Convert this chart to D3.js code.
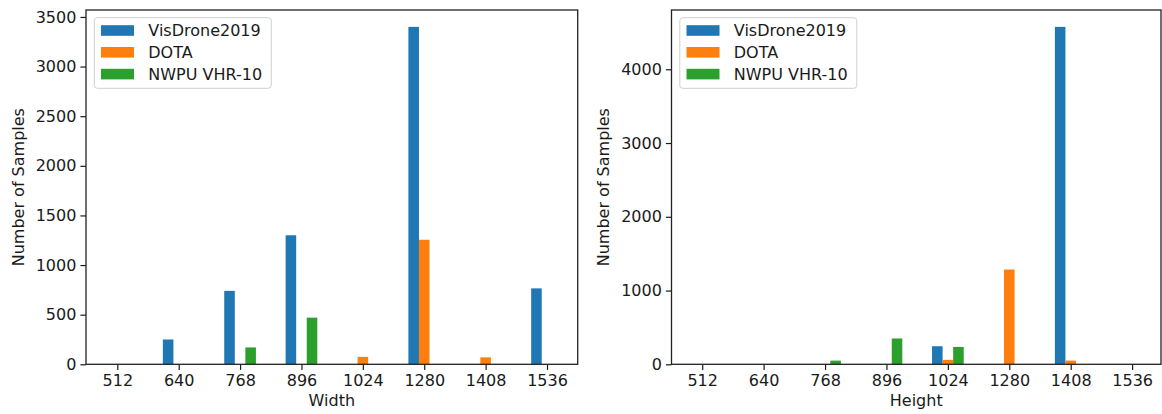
<!DOCTYPE html>
<html>
<head>
<meta charset="utf-8">
<script src="https://cdn.jsdelivr.net/npm/d3@7"></script>
<style>
  html, body { margin: 0; padding: 0; background: #ffffff; }
  svg { display: block; }
  text { font-family: "DejaVu Sans", sans-serif; fill: #1a1a1a; }
</style>
</head>
<body>
<svg id="chart" width="1162" height="414"></svg>
<script>
// ---- data ----
const categories = ["512", "640", "768", "896", "1024", "1280", "1408", "1536"];
const seriesNames = ["VisDrone2019", "DOTA", "NWPU VHR-10"];
const seriesColors = ["#1f77b4", "#ff7f0e", "#2ca02c"];

// Width distribution (left panel)
const widthVisDrone = [0, 250, 740, 1300, 0, 3400, 0, 765];
const widthDOTA     = [0, 0, 0, 0, 75, 1255, 70, 0];
const widthNWPU     = [0, 0, 170, 470, 0, 0, 0, 0];

// Height distribution (right panel)
const heightVisDrone = [0, 0, 0, 0, 245, 0, 4575, 0];
const heightDOTA     = [0, 0, 0, 0, 60, 1285, 50, 0];
const heightNWPU     = [0, 0, 50, 350, 235, 0, 0, 0];

const xLabels = ["Width", "Height"];
const yLabel = "Number of Samples";

// ---- layout ----
const panels = [
  { series: [widthVisDrone, widthDOTA, widthNWPU], xLabel: xLabels[0],
    x0: 86, x1: 577.7, dom: [-0.51, 7.5], tickCount: 8, ylabX: 24 },
  { series: [heightVisDrone, heightDOTA, heightNWPU], xLabel: xLabels[1],
    x0: 671.5, x1: 1161, dom: [-0.5, 7.47], tickCount: 5, ylabX: 609 }
];
const yTop = 10, yBottom = 364.3;
const barW = 0.172;
const fontSize = 16;

const svg = d3.select("#chart");

panels.forEach(p => {
  const g = svg.append("g");
  const x = d3.scaleLinear().domain(p.dom).range([p.x0, p.x1]);
  const maxV = d3.max(p.series.flat());
  const y = d3.scaleLinear().domain([0, maxV * 1.05]).range([yBottom, yTop]);

  // bars
  p.series.forEach((vals, s) => {
    g.append("g").selectAll("rect")
      .data(vals.map((v, i) => ({ v, i })))
      .join("rect")
      .attr("x", d => x(d.i + (s - 1.5) * barW))
      .attr("width", d => x(barW) - x(0))
      .attr("y", d => y(d.v))
      .attr("height", d => y(0) - y(d.v))
      .attr("fill", seriesColors[s]);
  });

  // axes
  const xAxis = d3.axisBottom(x)
    .tickValues(d3.range(categories.length))
    .tickFormat(i => categories[i])
    .tickSize(5.6).tickPadding(4.5);
  const gx = g.append("g").attr("transform", `translate(0,${yBottom})`).call(xAxis);
  const yAxis = d3.axisLeft(y).ticks(p.tickCount, "d").tickSize(5.6).tickPadding(4);
  const gy = g.append("g").attr("transform", `translate(${p.x0},0)`).call(yAxis);
  [gx, gy].forEach(a => {
    a.select(".domain").remove();
    a.selectAll(".tick line").attr("stroke", "#1a1a1a").attr("stroke-width", 1.2);
    a.selectAll(".tick text").attr("font-size", fontSize).attr("font-family", "DejaVu Sans").attr("fill", "#1a1a1a");
  });

  // frame
  g.append("rect")
    .attr("x", p.x0).attr("y", yTop)
    .attr("width", p.x1 - p.x0).attr("height", yBottom - yTop)
    .attr("fill", "none").attr("stroke", "#222").attr("stroke-width", 1.3);

  // axis labels
  g.append("text")
    .attr("x", (p.x0 + p.x1) / 2).attr("y", 406)
    .attr("text-anchor", "middle").attr("font-size", fontSize)
    .text(p.xLabel);
  g.append("text")
    .attr("transform", `translate(${p.ylabX},${(yTop + yBottom) / 2}) rotate(-90)`)
    .attr("text-anchor", "middle").attr("font-size", fontSize)
    .text(yLabel);

  // legend
  const lx = p.x0 + 8.3, ly = 17.7;
  const lg = g.append("g");
  lg.append("rect")
    .attr("x", lx).attr("y", ly).attr("width", 177).attr("height", 70.6)
    .attr("rx", 3).attr("fill", "#fff").attr("fill-opacity", 0.8)
    .attr("stroke", "#d0d0d0").attr("stroke-width", 1);
  seriesNames.forEach((name, s) => {
    const cy = ly + 12.8 + s * 21.8;
    lg.append("rect")
      .attr("x", lx + 6.7).attr("y", cy - 5.3)
      .attr("width", 33).attr("height", 10.6)
      .attr("fill", seriesColors[s]);
    lg.append("text")
      .attr("x", lx + 54).attr("y", cy).attr("dy", "0.36em")
      .attr("font-size", fontSize)
      .text(name);
  });
});
</script>
</body>
</html>
